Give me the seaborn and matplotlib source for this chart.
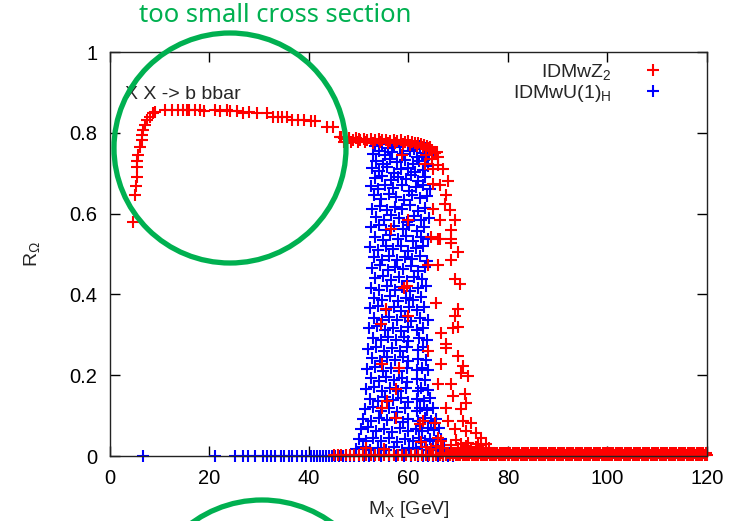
import matplotlib
matplotlib.use("Agg")
import matplotlib.pyplot as plt
from matplotlib.lines import Line2D
from matplotlib.patches import Ellipse
import pandas as pd
import seaborn as sns

# ---- IDMwZ2 scan points (red) ----
z2_curve_x = [4.6, 5.0, 5.2, 5.4, 5.4, 5.5, 5.7, 6.0, 6.4, 6.4, 6.6, 7.0, 7.4, 8.0, 8.7, 9.0,
              11.1, 12.4, 13.7, 14.7, 15.5, 15.9, 17.1, 18.1, 18.8, 21.1, 22.1, 23.5, 24.1, 25.5,
              26.7, 28.0, 29.5, 31.5, 32.8, 33.8, 34.6, 35.5, 36.6, 37.8, 39.0, 40.5, 41.2,
              43.6, 44.8, 46.2, 47.0, 48.0, 50.0]
z2_curve_y = [0.58, 0.646, 0.668, 0.69, 0.716, 0.73, 0.745, 0.766, 0.782, 0.795, 0.807, 0.82, 0.832, 0.84, 0.849, 0.852,
              0.856, 0.856, 0.857, 0.856, 0.856, 0.857, 0.856, 0.856, 0.855, 0.856, 0.855, 0.856, 0.855, 0.854,
              0.85, 0.851, 0.85, 0.849, 0.84, 0.839, 0.838, 0.839, 0.832, 0.831, 0.832, 0.83, 0.829,
              0.815, 0.814, 0.79, 0.787, 0.786, 0.784]

z2_band_x = [46.5, 47.3, 48.0, 48.8, 49.5, 50.2, 51.0, 51.7, 52.5, 53.2, 54.0, 54.7, 55.5, 56.2,
             57.0, 57.7, 58.5, 59.2, 60.0, 60.7, 61.3, 62.0, 62.6, 63.2, 63.8, 64.4, 64.8, 65.3,
             47.0, 48.4, 49.9, 51.3, 52.9, 54.3, 55.9, 57.3, 58.9, 60.3, 61.7, 62.9, 64.1]
z2_band_y = [0.79, 0.784, 0.787, 0.783, 0.786, 0.782, 0.785, 0.783, 0.784, 0.782, 0.784, 0.781, 0.783, 0.78,
             0.782, 0.779, 0.781, 0.778, 0.779, 0.776, 0.775, 0.774, 0.772, 0.77, 0.768, 0.765, 0.758, 0.75,
             0.778, 0.777, 0.776, 0.777, 0.775, 0.776, 0.774, 0.775, 0.773, 0.771, 0.768, 0.766, 0.762]

z2_scatter_x = [66.0, 66.0, 65.0, 67.0, 65.0, 66.4, 68.0, 67.6, 67.4, 65.0, 68.4, 66.4, 69.4, 68.6,
                64.6, 66.4, 68.6, 66.0, 68.6, 70.0, 68.6, 66.0, 64.0, 69.4, 70.4, 65.6, 70.0, 69.4,
                70.0, 69.0, 66.6, 67.6, 67.6, 64.0, 70.0, 66.6, 71.0, 70.6, 72.0, 66.0, 68.6, 69.0,
                71.4, 71.6, 67.6, 70.6, 63.0, 65.4, 68.0, 71.0, 72.6, 69.4, 71.6, 73.6, 74.6, 66.0,
                75.6, 70.6, 58.6, 63.4, 60.0, 56.4, 59.6, 59.0, 55.4, 60.0, 54.4, 54.6, 58.0, 57.4,
                55.6, 54.6, 57.4, 62.4, 51.4, 55.0, 63.5, 64.5, 65.5, 67.0, 68.5, 70.0, 71.5, 72.5,
                73.5, 74.5, 75.5, 76.2, 62.5, 66.5, 69.5, 72.0, 74.0, 75.0, 64.8, 65.8, 63.6]
z2_scatter_y = [0.74, 0.72, 0.71, 0.71, 0.674, 0.67, 0.68, 0.647, 0.625, 0.612, 0.61, 0.585, 0.585, 0.56,
                0.543, 0.536, 0.536, 0.536, 0.526, 0.506, 0.486, 0.474, 0.474, 0.437, 0.425, 0.378, 0.365, 0.346,
                0.32, 0.316, 0.304, 0.277, 0.267, 0.26, 0.247, 0.227, 0.222, 0.205, 0.198, 0.178, 0.178, 0.148,
                0.153, 0.131, 0.119, 0.116, 0.086, 0.081, 0.086, 0.086, 0.081, 0.067, 0.062, 0.057, 0.044, 0.044,
                0.03, 0.03, 0.745, 0.723, 0.585, 0.563, 0.42, 0.415, 0.365, 0.346, 0.326, 0.227, 0.217, 0.165,
                0.136, 0.119, 0.094, 0.079, 0.02, 0.017, 0.022, 0.018, 0.025, 0.02, 0.026, 0.021, 0.024, 0.019,
                0.022, 0.026, 0.018, 0.02, 0.035, 0.038, 0.04, 0.033, 0.03, 0.015, 0.735, 0.752, 0.745]

z2_zero_x = [45.0, 45.8, 46.5, 47.5, 48.2, 49.0, 50.0, 50.8, 51.5, 52.5, 53.3, 54.0, 55.0, 56.0, 57.0,
             57.8, 58.6, 59.5, 60.5, 61.3, 62.0, 62.8, 63.5, 64.2, 65.0, 65.6, 66.3, 67.0, 67.6, 68.3,
             69.0, 69.6, 70.0, 70.4, 70.9, 71.3, 71.8, 72.2, 72.7, 73.1, 73.6, 74.0, 74.5, 74.9, 75.4,
             75.8, 76.3, 76.7, 77.2, 77.6, 78.1, 78.5, 79.0, 79.4, 79.9, 80.3, 80.8, 81.2, 81.7, 82.1,
             82.6, 83.0, 83.5, 83.9, 84.4, 84.8, 85.3, 85.7, 86.2, 86.6, 87.1, 87.5, 88.0, 88.4, 88.9,
             89.3, 89.8, 90.2, 90.7, 91.1, 91.6, 92.0, 92.5, 92.9, 93.4, 93.8, 94.3, 94.7, 95.2, 95.6,
             96.1, 96.5, 97.0, 97.4, 97.9, 98.3, 98.8, 99.2, 99.7, 100.1, 100.6, 101.0, 101.5, 101.9,
             102.4, 102.8, 103.3, 103.7, 104.2, 104.6, 105.1, 105.5, 106.0, 106.4, 106.9, 107.3, 107.8,
             108.2, 108.7, 109.1, 109.6, 110.0, 110.5, 110.9, 111.4, 111.8, 112.3, 112.7, 113.2, 113.6,
             114.1, 114.5, 115.0, 115.4, 115.9, 116.3, 116.8, 117.2, 117.7, 118.1, 118.6, 119.0, 119.5,
             119.9]
# second sweep of the heavy-mass region, all with R ~ 0
z2_zero2_x = [66.6, 67.9, 68.6, 69.3, 70.2, 70.6, 71.1, 71.5, 72.0, 72.4, 72.9, 73.3, 73.8, 74.2,
              74.7, 75.1, 75.6, 76.0, 76.5, 76.9, 77.4, 77.8, 78.3, 78.7, 79.2, 79.6, 80.1, 80.5,
              81.0, 81.4, 81.9, 82.3, 82.8, 83.2, 83.7, 84.1, 84.6, 85.0, 85.5, 85.9, 86.4, 86.8,
              87.3, 87.7, 88.2, 88.6, 89.1, 89.5, 90.0, 90.4, 90.9, 91.3, 91.8, 92.2, 92.7, 93.1,
              93.6, 94.0, 94.5, 94.9, 95.4, 95.8, 96.3, 96.7, 97.2, 97.6, 98.1, 98.5, 99.0, 99.4,
              99.9, 100.3, 100.8, 101.2, 101.7, 102.1, 102.6, 103.0, 103.5, 103.9, 104.4, 104.8,
              105.3, 105.7, 106.2, 106.6, 107.1, 107.5, 108.0, 108.4, 108.9, 109.3, 109.8, 110.2,
              110.7, 111.1, 111.6, 112.0, 112.5, 112.9, 113.4, 113.8, 114.3, 114.7, 115.2, 115.6,
              116.1, 116.5, 117.0, 117.4, 117.9, 118.3, 118.8, 119.2, 119.7]

# ---- IDMwU(1)H scan points (blue), (mass, ratio) ----
u1_points = [
    (53.2, 0.768), (54.6, 0.772), (55.9, 0.762), (57.1, 0.770), (58.3, 0.764), (59.8, 0.771), (61.2, 0.760), (62.4, 0.768), (63.6, 0.763),
    (52.8, 0.748), (54.0, 0.756), (55.3, 0.744), (56.7, 0.752), (58.9, 0.747), (60.4, 0.755), (61.8, 0.741), (63.1, 0.750), (64.2, 0.745),
    (53.5, 0.731), (54.9, 0.724), (56.2, 0.735), (57.6, 0.727), (59.2, 0.733), (60.9, 0.722), (62.2, 0.729), (63.8, 0.736),
    (52.6, 0.712), (54.1, 0.705), (55.6, 0.716), (57.0, 0.700), (58.4, 0.710), (59.9, 0.714), (61.4, 0.703), (62.9, 0.709), (64.0, 0.717),
    (53.3, 0.688), (54.7, 0.694), (56.4, 0.682), (57.8, 0.691), (59.5, 0.685), (60.6, 0.695), (62.0, 0.680), (63.4, 0.690),
    (52.4, 0.668), (53.9, 0.660), (55.2, 0.672), (56.9, 0.663), (58.6, 0.670), (60.1, 0.657), (61.6, 0.666), (63.0, 0.672), (64.3, 0.661),
    (53.1, 0.645), (54.5, 0.637), (56.0, 0.648), (57.4, 0.640), (59.0, 0.634), (60.7, 0.646), (62.3, 0.638), (63.7, 0.643),
    (52.7, 0.612), (54.2, 0.620), (55.7, 0.608), (57.2, 0.617), (58.7, 0.611), (60.3, 0.622), (61.9, 0.606), (63.3, 0.615),
    (53.4, 0.592), (55.0, 0.585), (56.5, 0.596), (58.0, 0.588), (59.6, 0.580), (61.1, 0.594), (62.6, 0.584), (64.1, 0.590),
    (52.5, 0.566), (54.0, 0.572), (55.5, 0.560), (57.0, 0.569), (58.8, 0.562), (60.2, 0.571), (61.7, 0.558), (63.2, 0.566),
    (53.2, 0.541), (54.8, 0.535), (56.3, 0.546), (57.9, 0.538), (59.4, 0.544), (61.0, 0.533), (62.5, 0.543), (63.9, 0.537),
    (52.3, 0.517), (53.8, 0.510), (55.4, 0.521), (56.9, 0.512), (58.5, 0.519), (60.0, 0.508), (61.5, 0.516), (63.0, 0.521),
    (53.0, 0.492), (54.6, 0.486), (56.1, 0.496), (57.7, 0.484), (59.2, 0.493), (60.8, 0.487), (62.3, 0.495), (63.8, 0.483),
    (52.6, 0.466), (54.2, 0.472), (55.8, 0.460), (57.3, 0.469), (58.9, 0.462), (60.5, 0.471), (62.0, 0.459), (63.4, 0.467),
    (53.3, 0.440), (54.9, 0.446), (56.5, 0.436), (58.1, 0.444), (59.7, 0.434), (61.2, 0.443), (62.8, 0.437),
    (52.4, 0.417), (54.0, 0.410), (55.6, 0.420), (57.2, 0.412), (58.7, 0.418), (60.3, 0.409), (61.9, 0.416), (63.5, 0.421),
    (53.1, 0.392), (54.7, 0.386), (56.2, 0.395), (57.8, 0.384), (59.4, 0.391), (61.0, 0.386), (62.6, 0.394),
    (52.2, 0.366), (53.8, 0.372), (55.4, 0.361), (57.0, 0.369), (58.5, 0.360), (60.1, 0.368), (61.7, 0.362), (63.2, 0.370),
    (53.0, 0.342), (54.6, 0.336), (56.1, 0.345), (57.6, 0.337), (59.2, 0.344), (60.6, 0.334), (62.4, 0.341), (63.9, 0.336),
    (52.1, 0.316), (53.7, 0.321), (55.3, 0.311), (56.8, 0.318), (58.4, 0.310), (59.8, 0.319), (61.8, 0.312), (63.0, 0.318),
    (52.8, 0.292), (54.4, 0.286), (55.9, 0.295), (57.5, 0.288), (59.1, 0.294), (59.9, 0.284), (62.2, 0.291), (63.7, 0.287),
    (51.9, 0.266), (53.5, 0.271), (55.1, 0.261), (56.6, 0.268), (58.2, 0.260), (59.6, 0.269), (61.9, 0.263), (62.9, 0.270),
    (52.6, 0.242), (54.2, 0.236), (55.7, 0.245), (57.3, 0.238), (58.9, 0.244), (59.8, 0.234), (62.0, 0.241), (63.5, 0.237),
    (51.7, 0.216), (53.3, 0.221), (54.9, 0.211), (56.4, 0.218), (58.0, 0.210), (59.6, 0.219), (61.8, 0.212), (62.7, 0.218), (64.0, 0.213),
    (52.4, 0.192), (54.0, 0.186), (55.5, 0.195), (57.1, 0.188), (58.7, 0.194), (59.7, 0.184), (61.8, 0.191), (63.3, 0.187),
    (51.5, 0.166), (53.1, 0.171), (54.7, 0.161), (56.2, 0.168), (57.8, 0.160), (59.4, 0.169), (61.9, 0.162), (62.5, 0.168), (63.9, 0.163),
    (52.2, 0.142), (53.8, 0.136), (55.3, 0.145), (56.9, 0.138), (58.5, 0.144), (59.8, 0.134), (61.7, 0.141), (63.1, 0.137), (64.4, 0.143),
    (51.3, 0.116), (52.9, 0.121), (54.5, 0.111), (56.0, 0.118), (57.6, 0.110), (59.2, 0.119), (61.8, 0.112), (62.3, 0.118), (63.7, 0.113), (64.9, 0.120),
    (50.9, 0.092), (52.5, 0.086), (54.1, 0.095), (55.7, 0.088), (57.3, 0.094), (58.9, 0.084), (59.9, 0.091), (62.0, 0.087), (63.4, 0.094), (64.6, 0.086), (65.5, 0.092),
    (50.4, 0.066), (51.9, 0.071), (53.5, 0.061), (55.1, 0.068), (56.7, 0.060), (58.3, 0.069), (59.9, 0.062), (61.6, 0.068), (62.8, 0.063), (64.0, 0.070), (65.2, 0.064), (66.1, 0.069),
    (50.0, 0.042), (51.4, 0.036), (52.9, 0.045), (54.5, 0.038), (56.1, 0.044), (57.7, 0.034), (59.3, 0.041), (60.9, 0.037), (62.2, 0.044), (63.3, 0.036), (64.4, 0.043), (65.6, 0.038), (66.5, 0.042),
    (49.4, 0.018), (50.8, 0.022), (52.3, 0.014), (53.9, 0.020), (55.4, 0.016), (57.0, 0.023), (58.6, 0.015), (60.2, 0.021), (61.6, 0.017), (62.7, 0.022), (63.8, 0.015), (64.9, 0.020), (66.0, 0.016), (67.2, 0.021),
]
u1_zero_x = [6.7, 21.2, 25.2, 26.7, 27.7, 29.2, 30.7, 31.5, 32.3, 33.2, 34.3, 34.9, 35.9, 36.5,
             37.5, 38.5, 39.3, 40.5, 41.0, 41.6, 42.2, 42.8, 43.4, 44.0, 44.6, 45.2, 46.0, 46.8,
             47.5, 48.3, 49.0, 50.0, 51.0, 52.0, 53.0, 54.5, 56.0, 57.5, 59.0, 60.5, 62.0, 63.0,
             64.0, 65.0, 66.0, 67.0, 68.0, 69.0]

RED = "#ff0000"
BLUE = "#0000ff"
GREEN = "#00b050"
label_z2 = "IDMwZ$_2$"
label_u1 = "IDMwU(1)$_H$"

red_x = z2_curve_x + z2_band_x + z2_scatter_x + z2_zero_x + z2_zero2_x
red_y = (z2_curve_y + z2_band_y + z2_scatter_y
         + [0.003] * len(z2_zero_x) + [0.007] * len(z2_zero2_x))
blue_x = [p[0] for p in u1_points] + u1_zero_x
blue_y = [p[1] for p in u1_points] + [0.0] * len(u1_zero_x)

df = pd.concat([
    pd.DataFrame({"mx": blue_x, "r": blue_y, "model": label_u1}),
    pd.DataFrame({"mx": red_x, "r": red_y, "model": label_z2}),
], ignore_index=True)

sns.set_style("ticks")
plt.rcParams["font.family"] = ["Liberation Sans", "DejaVu Sans"]
plt.rcParams["mathtext.default"] = "regular"

fig = plt.figure(figsize=(7.35, 5.21), dpi=100)
ax = fig.add_axes([110 / 735, 1 - 456 / 521, 597 / 735, 404 / 521])

MS = 80
MW = 1.5
for model, color in [(label_u1, BLUE), (label_z2, RED)]:
    sub = df[df["model"] == model]
    sns.scatterplot(data=sub, x="mx", y="r", marker="+", color=color, s=MS,
                    linewidth=MW, ax=ax, legend=False)
for coll in ax.collections:
    coll.set_clip_on(False)

ax.set_xlim(0, 120)
ax.set_ylim(0, 1)
ax.set_xticks([0, 20, 40, 60, 80, 100, 120])
ax.set_yticks([0, 0.2, 0.4, 0.6, 0.8, 1])
ax.set_yticklabels(["0", "0.2", "0.4", "0.6", "0.8", "1"])
ax.tick_params(direction="in", length=7, width=1, top=True, right=True,
               labelsize=14.5, pad=9, colors="black")
for sp in ax.spines.values():
    sp.set_visible(True)
    sp.set_linewidth(1.0)
    sp.set_color("#222222")

ax.set_xlabel("M$_X$ [GeV]", fontsize=14, labelpad=8)
ax.set_ylabel("R$_\\Omega$", fontsize=14, labelpad=20)

ax.text(3.0, 0.896, "X X -> b bbar", fontsize=14, ha="left", va="center")

handles = [
    Line2D([], [], ls="none", marker="+", color=RED, markersize=MS ** 0.5, mew=MW),
    Line2D([], [], ls="none", marker="+", color=BLUE, markersize=MS ** 0.5, mew=MW),
]
ax.legend(handles, [label_z2, label_u1], loc="upper right", frameon=False,
          markerfirst=False, fontsize=14, handletextpad=1.1, labelspacing=0.05,
          borderpad=0, borderaxespad=0,
          bbox_to_anchor=(672 / 735, 1 - 62 / 521), bbox_transform=fig.transFigure)

# annotation circles and note
fig.add_artist(Ellipse((230 / 735, 1 - 148 / 521), 232 / 735, 230 / 521,
                       transform=fig.transFigure, fill=False, ec=GREEN, lw=3.8))
fig.add_artist(Ellipse((262 / 735, 1 - 619 / 521), 238 / 735, 238 / 521,
                       transform=fig.transFigure, fill=False, ec=GREEN, lw=3.8,
                       clip_on=False))
fig.text(275 / 735, 1 - 16 / 521, "too small cross section", color=GREEN,
         fontsize=18.5, family=["Noto Sans", "DejaVu Sans"], ha="center", va="center")

fig.savefig("out.png", dpi=100)
